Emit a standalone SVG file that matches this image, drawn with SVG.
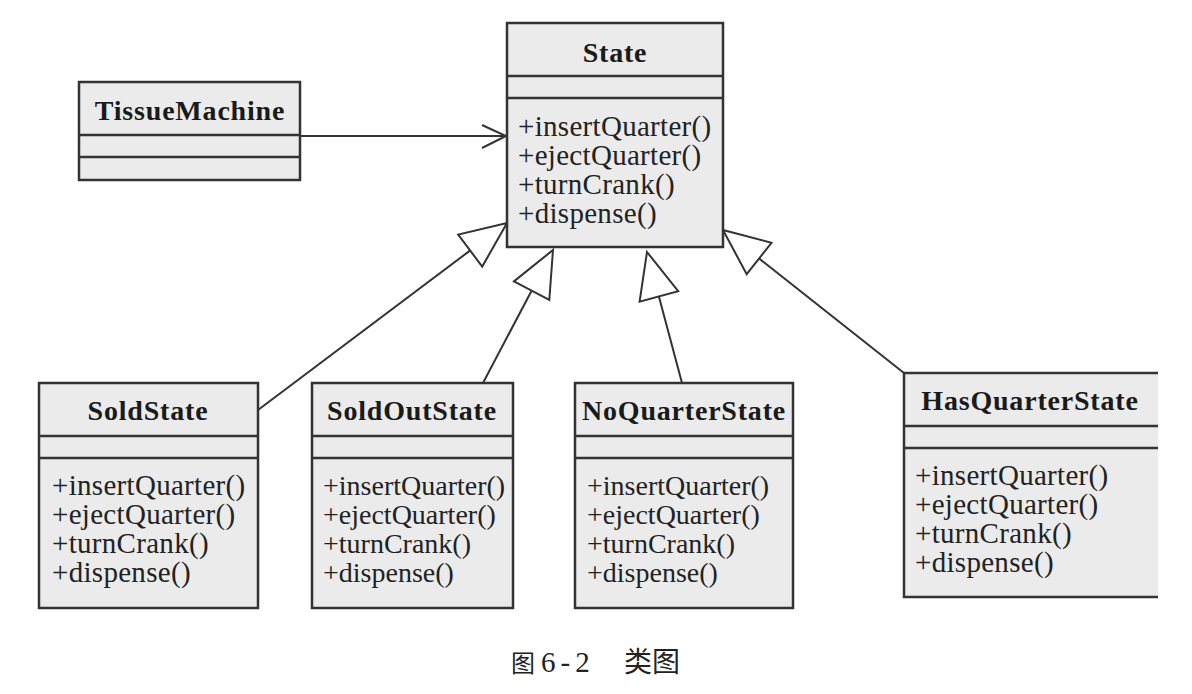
<svg xmlns="http://www.w3.org/2000/svg" width="1192" height="694" viewBox="0 0 1192 694">
<defs>
<style>
.box{fill:#ebebeb;stroke:#333;stroke-width:2.5}
.sep{stroke:#333;stroke-width:2.5;fill:none}
.title{font-family:"Liberation Serif",serif;font-weight:bold;font-size:28px;letter-spacing:0.8px;fill:#1a1a1a;text-anchor:middle}
.m{font-family:"Liberation Serif",serif;font-size:29px;letter-spacing:0.3px;fill:#222}
.n{font-size:28px;letter-spacing:0}
.conn{stroke:#333;stroke-width:2;fill:none}
.tri{stroke:#333;stroke-width:2;fill:#fff}
.cap{font-family:"Liberation Serif","Noto Sans CJK SC",serif;fill:#222}
</style>
</defs>
<rect width="1192" height="694" fill="#fff"/>
<g id="connectors">
<line class="conn" x1="300" y1="136" x2="506" y2="136"/>
<polyline class="conn" points="482,125 506,136 482,148"/>
<line class="conn" x1="258" y1="410" x2="470" y2="250.6"/>
<polygon class="tri" points="507,223 482.2,266.6 458.2,234.6"/>
<line class="conn" x1="483" y1="383" x2="531.6" y2="290.7"/>
<polygon class="tri" points="553,250 549.3,300 513.9,281.4"/>
<line class="conn" x1="682" y1="383" x2="658.9" y2="296.4"/>
<polygon class="tri" points="647,252 678.2,291.2 639.6,301.6"/>
<line class="conn" x1="904" y1="373" x2="759.1" y2="258.5"/>
<polygon class="tri" points="723,230 771.5,242.8 746.7,274.2"/>
</g>
<g id="TissueMachine">
<rect class="box" x="79" y="82" width="221" height="98"/>
<line class="sep" x1="79" y1="135" x2="300" y2="135"/>
<line class="sep" x1="79" y1="157" x2="300" y2="157"/>
<text class="title" x="190" y="120">TissueMachine</text>
</g>
<g id="State">
<rect class="box" x="507" y="23" width="216" height="224"/>
<line class="sep" x1="507" y1="76" x2="723" y2="76"/>
<line class="sep" x1="507" y1="98" x2="723" y2="98"/>
<text class="title" x="615" y="62">State</text>
<text class="m" x="518" y="136">+insertQuarter()</text>
<text class="m" x="518" y="165">+ejectQuarter()</text>
<text class="m" x="518" y="194">+turnCrank()</text>
<text class="m" x="518" y="223">+dispense()</text>
</g>
<g id="SoldState">
<rect class="box" x="39" y="383" width="219" height="225"/>
<line class="sep" x1="39" y1="436" x2="258" y2="436"/>
<line class="sep" x1="39" y1="458" x2="258" y2="458"/>
<text class="title" x="148" y="420">SoldState</text>
<text class="m" x="52" y="495">+insertQuarter()</text>
<text class="m" x="52" y="524">+ejectQuarter()</text>
<text class="m" x="52" y="553">+turnCrank()</text>
<text class="m" x="52" y="582">+dispense()</text>
</g>
<g id="SoldOutState">
<rect class="box" x="312" y="383" width="201" height="225"/>
<line class="sep" x1="312" y1="436" x2="513" y2="436"/>
<line class="sep" x1="312" y1="458" x2="513" y2="458"/>
<text class="title" x="412" y="420">SoldOutState</text>
<text class="m n" x="323" y="495">+insertQuarter()</text>
<text class="m n" x="323" y="524">+ejectQuarter()</text>
<text class="m n" x="323" y="553">+turnCrank()</text>
<text class="m n" x="323" y="582">+dispense()</text>
</g>
<g id="NoQuarterState">
<rect class="box" x="575" y="383" width="218" height="225"/>
<line class="sep" x1="575" y1="436" x2="793" y2="436"/>
<line class="sep" x1="575" y1="458" x2="793" y2="458"/>
<text class="title" x="684" y="420">NoQuarterState</text>
<text class="m n" x="587" y="495">+insertQuarter()</text>
<text class="m n" x="587" y="524">+ejectQuarter()</text>
<text class="m n" x="587" y="553">+turnCrank()</text>
<text class="m n" x="587" y="582">+dispense()</text>
</g>
<g id="HasQuarterState">
<rect x="904" y="373" width="254" height="224" fill="#ebebeb"/>
<polyline class="sep" points="1158,373 904,373 904,597 1158,597"/>
<line class="sep" x1="904" y1="426" x2="1158" y2="426"/>
<line class="sep" x1="904" y1="448" x2="1158" y2="448"/>
<text class="title" x="1030" y="410">HasQuarterState</text>
<text class="m" x="915" y="485">+insertQuarter()</text>
<text class="m" x="915" y="514">+ejectQuarter()</text>
<text class="m" x="915" y="543">+turnCrank()</text>
<text class="m" x="915" y="572">+dispense()</text>
</g>
<text class="cap" y="672"><tspan x="511" font-size="24">图</tspan><tspan x="541" font-size="29" letter-spacing="5">6-2</tspan><tspan x="624" font-size="28">类图</tspan></text>
</svg>
